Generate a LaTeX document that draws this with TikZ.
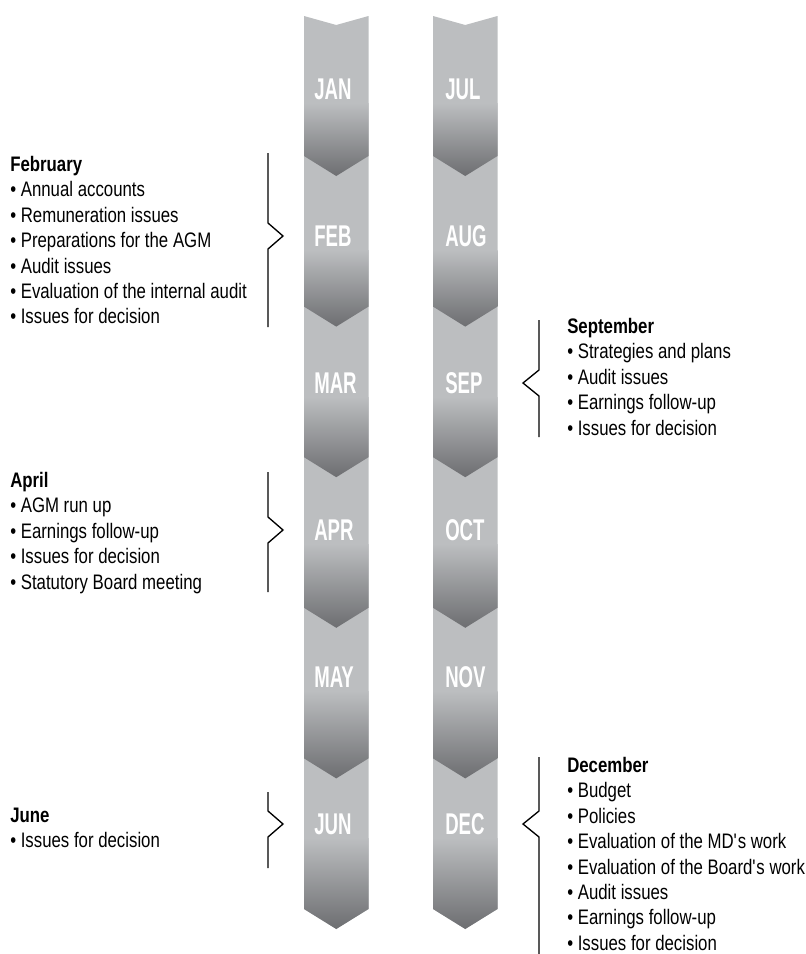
\documentclass[tikz,border=0pt]{standalone}
\usepackage{fontspec}
\setmainfont{Liberation Sans}[FakeStretch=0.8]
\newfontfamily\monthfont{Liberation Sans}[FakeStretch=0.62]
\usepackage{tikz}
\usetikzlibrary{calc}
\definecolor{barlight}{HTML}{BCBEC0}
\definecolor{bardark}{HTML}{6D6E71}
\tikzset{
  month/.style={anchor=west, inner sep=0pt, text=white, font=\monthfont\bfseries\fontsize{22.5}{26}\selectfont},
  note/.style={anchor=north west, inner sep=0pt, align=left, font=\fontsize{15.75}{19.1}\selectfont},
  brace/.style={draw=black, line width=1pt, line join=miter}
}

\begin{document}
\begin{tikzpicture}[x=0.75pt, y=-0.75pt]
  \useasboundingbox (0,0) rectangle (806,954);
  % two bars, drawn bottom segment first
  \foreach \x in {304,433}{
    \foreach \ytop/\yside/\ygrad in {758.4/909/838, 607.8/758.4/691, 457.2/607.8/544, 306.6/457.2/397, 156/306.6/250, 16/156/103}{
      \fill[barlight] (\x,\ytop) -- (\x+32.25,\ytop+9) -- (\x+64.5,\ytop) -- (\x+64.5,\yside) -- (\x+32.25,\yside+20) -- (\x,\yside) -- cycle;
      \shade[top color=barlight, bottom color=bardark] (\x,\ygrad) -- (\x+64.5,\ygrad) -- (\x+64.5,\yside) -- (\x+32.25,\yside+20) -- (\x,\yside) -- cycle;
    }
  }
  \node[month] (jan) at (314,89) {JAN};
  \node[month] (feb) at (314,236) {FEB};
  \node[month] (mar) at (314,383) {MAR};
  \node[month] (apr) at (314,530) {APR};
  \node[month] (may) at (314,677) {MAY};
  \node[month] (jun) at (314,824) {JUN};
  \node[month] (jul) at (445,89) {JUL};
  \node[month] (aug) at (445,236) {AUG};
  \node[month] (sep) at (445,383) {SEP};
  \node[month] (oct) at (445,530) {OCT};
  \node[month] (nov) at (445,677) {NOV};
  \node[month] (dec) at (445,824) {DEC};

  \node[note] (febnote) at (10,155.7) {\textbf{February}\\• Annual accounts\\• Remuneration issues\\• Preparations for the AGM\\• Audit issues\\• Evaluation of the internal audit\\• Issues for decision};
  \node[note] (aprnote) at (10,471.7) {\textbf{April}\\• AGM run up\\• Earnings follow-up\\• Issues for decision\\• Statutory Board meeting};
  \node[note] (junnote) at (10,807.7) {\textbf{June}\\• Issues for decision};
  \node[note] (sepnote) at (567,317.7) {\textbf{September}\\• Strategies and plans\\• Audit issues\\• Earnings follow-up\\• Issues for decision};
  \node[note] (decnote) at (567,756.7) {\textbf{December}\\• Budget\\• Policies\\• Evaluation of the MD{\textquotesingle}s work\\• Evaluation of the Board{\textquotesingle}s work\\• Audit issues\\• Earnings follow-up\\• Issues for decision};

  % brackets pointing at the months
  \coordinate (ltip) at (283,0);
  \coordinate (rtip) at (523,0);
  \draw[brace] (268,153) -- (268,223) -- (feb -| ltip) -- (268,249) -- (268,327);
  \draw[brace] (268,472) -- (268,517) -- (apr -| ltip) -- (268,543) -- (268,592);
  \draw[brace] (268,792) -- (268,811) -- (jun -| ltip) -- (268,837) -- (268,868);
  \draw[brace] (539,320) -- (539,370) -- (sep -| rtip) -- (539,396) -- (539,437);
  \draw[brace] (539,757) -- (539,811) -- (dec -| rtip) -- (539,837) -- (539,954);
\end{tikzpicture}
\end{document}
